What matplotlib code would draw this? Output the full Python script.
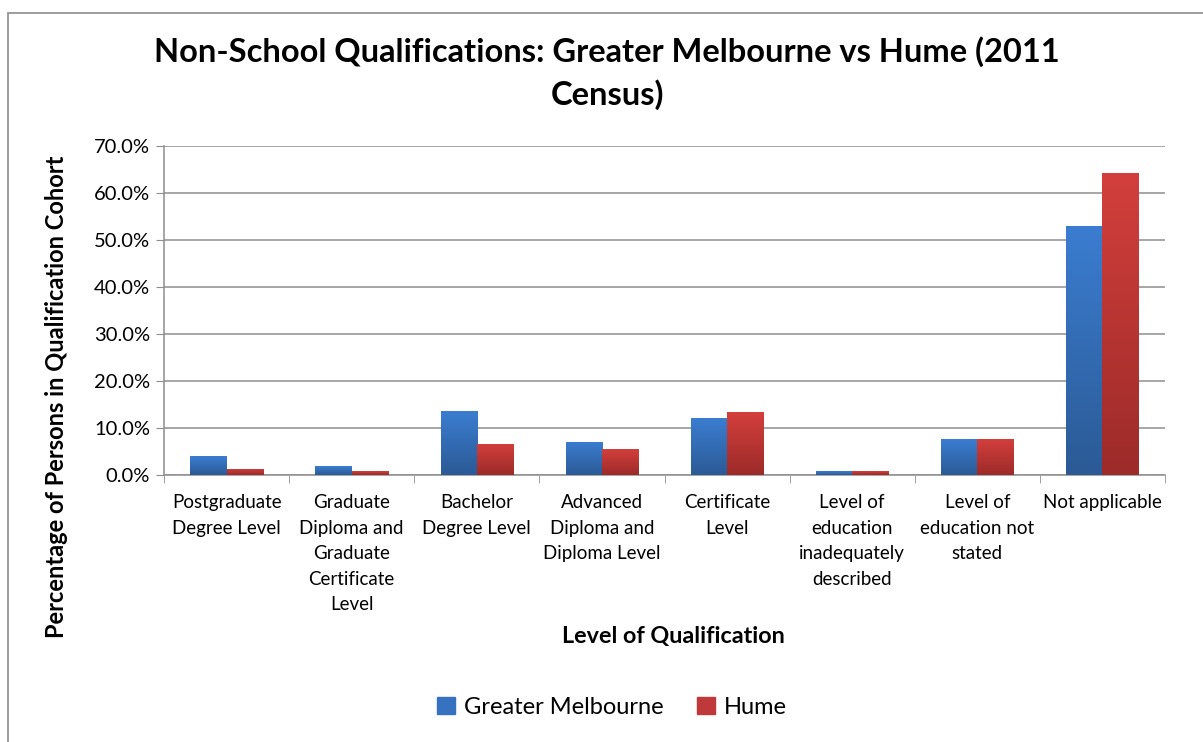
import matplotlib.pyplot as plt
import numpy as np
from matplotlib.patches import Rectangle
from matplotlib.colors import LinearSegmentedColormap
from matplotlib.ticker import FuncFormatter, FixedLocator

plt.rcParams['font.family'] = ['Lato', 'DejaVu Sans']

categories = ["Postgraduate\nDegree Level", "Graduate\nDiploma and\nGraduate\nCertificate\nLevel",
              "Bachelor\nDegree Level", "Advanced\nDiploma and\nDiploma Level", "Certificate\nLevel",
              "Level of\neducation\ninadequately\ndescribed", "Level of\neducation not\nstated",
              "Not applicable"]
melbourne = [4.0, 1.9, 13.6, 7.1, 12.1, 0.85, 7.6, 53.0]
hume = [1.3, 0.85, 6.6, 5.5, 13.4, 0.85, 7.6, 64.3]
series = ["Greater Melbourne", "Hume"]

fig = plt.figure(figsize=(12.03, 7.42), dpi=100)
# outer chart frame
fig.patches.append(Rectangle((8 / 1203, -0.01), 1.0, 1 - 13 / 742 + 0.01, transform=fig.transFigure,
                             fill=False, edgecolor="#8c8c8c", linewidth=1.2))

ax = fig.add_axes([164 / 1203, 1 - 475 / 742, (1165 - 164) / 1203, (475 - 146) / 742])

x = np.arange(len(categories))
w = 0.29
b1 = ax.bar(x - w / 2, melbourne, w, color="#3672c0", label=series[0], zorder=3)
b2 = ax.bar(x + w / 2, hume, w, color="#c0393a", label=series[1], zorder=3)

blue_cm = LinearSegmentedColormap.from_list("b", ["#2b5a95", "#3b7dd1"])
red_cm = LinearSegmentedColormap.from_list("r", ["#9c2b29", "#d33f3c"])
grad = np.linspace(0, 1, 256).reshape(-1, 1)
for bars, cm in ((b1, blue_cm), (b2, red_cm)):
    for p in bars:
        x0, y0 = p.get_x(), p.get_y()
        im = ax.imshow(grad, extent=[x0, x0 + p.get_width(), y0, y0 + p.get_height()],
                       origin="lower", aspect="auto", cmap=cm, zorder=4)
        im.set_clip_path(p)

ax.set_xlim(-0.5, len(categories) - 0.5)
ax.set_ylim(0, 70)
ax.yaxis.set_major_locator(FixedLocator(np.arange(0, 71, 10)))
ax.yaxis.set_major_formatter(FuncFormatter(lambda v, _: f"{v:.1f}%"))
ax.grid(axis="y", color="#8e8e8e", linewidth=1.1, zorder=0)
ax.set_axisbelow(True)

ax.set_xticks(x)
ax.set_xticklabels(categories, fontsize=13.5, linespacing=1.6, va="top")
ax.set_xticks(np.arange(-0.5, len(categories), 1), minor=True)
ax.tick_params(axis="x", which="major", length=0, pad=14)
ax.tick_params(axis="x", which="minor", length=6, color="#8e8e8e")
ax.tick_params(axis="y", length=6, color="#8e8e8e", labelsize=14.5, pad=4)

for s in ("top", "right"):
    ax.spines[s].set_visible(False)
for s in ("left", "bottom"):
    ax.spines[s].set_color("#8e8e8e")
    ax.spines[s].set_linewidth(1.1)

fig.text(607 / 1203, 1 - 52 / 742, "Non-School Qualifications: Greater Melbourne vs Hume (2011",
         ha="center", va="center", fontsize=23.5, fontweight="bold")
fig.text(607 / 1203, 1 - 95 / 742, "Census)", ha="center", va="center", fontsize=23.5, fontweight="bold")
fig.text(57 / 1203, 1 - 397 / 742, "Percentage of Persons in Qualification Cohort", rotation=90,
         ha="center", va="center", fontsize=17, fontweight="bold")
fig.text(673 / 1203, 1 - 637 / 742, "Level of Qualification", ha="center", va="center",
         fontsize=16.8, fontweight="bold")

h = [Rectangle((0, 0), 1, 1, color="#3672c0"), Rectangle((0, 0), 1, 1, color="#c0393a")]
fig.legend(h, series, loc="center", bbox_to_anchor=(612 / 1203, 1 - 707 / 742), ncol=2,
           frameon=False, fontsize=17, handlelength=0.75, handleheight=0.75, columnspacing=1.4,
           handletextpad=0.4)

fig.savefig("out.png", dpi=100)
